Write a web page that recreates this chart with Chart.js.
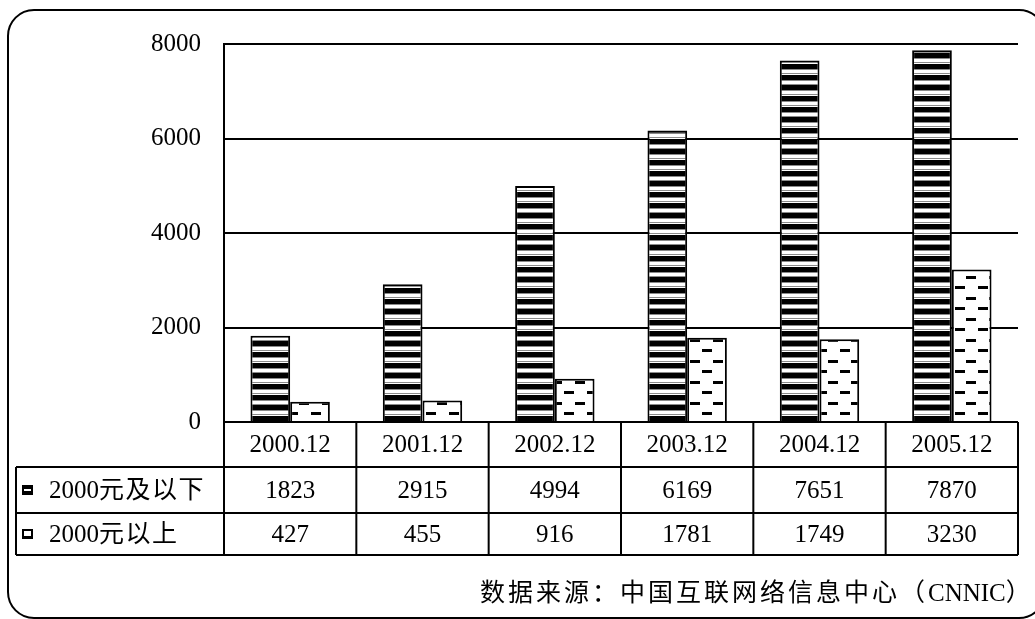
<!DOCTYPE html>
<html lang="zh">
<head>
<meta charset="UTF-8">
<title>网民个人月收入分布</title>
<script src="https://cdn.jsdelivr.net/npm/chart.js"></script>
<style>
    body { margin: 0; background: #fff; }
    canvas { display: block; }
</style>
</head>
<body>
<canvas id="chart" width="1035" height="619"></canvas>
<script>
    // data
    const categories = ['2000.12', '2001.12', '2002.12', '2003.12', '2004.12', '2005.12'];
    const belowValues = [1823, 2915, 4994, 6169, 7651, 7870];
    const aboveValues = [427, 455, 916, 1781, 1749, 3230];
    const seriesNames = ['2000元及以下', '2000元以上'];
    const yTickValues = [0, 2000, 4000, 6000, 8000];
    const sourceNote = '数据来源：中国互联网络信息中心（CNNIC）';

    const serif = "'Liberation Serif', 'Noto Sans CJK SC', serif";

    // horizontal black/white stripes
    function stripePattern() {
        const c = document.createElement('canvas');
        c.width = 8; c.height = 32;
        const g = c.getContext('2d');
        g.fillStyle = '#fff';
        g.fillRect(0, 0, 8, 32);
        for (let k = 0; k < 3; k++) {
            const y = Math.round(k * 32 / 3);
            g.fillStyle = '#000';
            g.fillRect(0, y, 8, 5);
            g.fillStyle = '#8a8a8a';
            g.fillRect(0, y + 5, 8, 1);
            g.fillRect(0, y + 9, 8, 1);
        }
        return g.createPattern(c, 'repeat');
    }

    // white with staggered short dashes
    function dashPattern() {
        const c = document.createElement('canvas');
        c.width = 23; c.height = 21;
        const g = c.getContext('2d');
        g.fillStyle = '#fff';
        g.fillRect(0, 0, 23, 21);
        g.fillStyle = '#000';
        g.fillRect(0, 3, 10, 3);
        g.fillRect(12, 13, 10, 3);
        return g.createPattern(c, 'repeat');
    }

    // draw text left-aligned, spacing out only the CJK runs
    function drawMixed(ctx, text, x, y, cjkSpacing) {
        const runs = text.match(/[\x00-\x7f]+|[^\x00-\x7f]+/g) || [];
        runs.forEach(run => {
            const ascii = /^[\x00-\x7f]/.test(run);
            ctx.letterSpacing = ascii ? '0px' : cjkSpacing + 'px';
            ctx.fillText(run, x, y);
            x += ctx.measureText(run).width;
        });
        ctx.letterSpacing = '0px';
    }

    // data table under the plot, frame and source line
    const tablePlugin = {
        id: 'tablePlugin',
        afterDraw(chart) {
            const ctx = chart.ctx;
            const area = chart.chartArea;
            const xs = chart.scales.x;
            const colW = (area.right - area.left) / categories.length;
            const top = area.bottom;
            const headBottom = top + 45;
            const row1Bottom = top + 91;
            const row2Bottom = top + 133;
            const tableLeft = 16;

            ctx.save();
            ctx.strokeStyle = '#000';
            ctx.lineWidth = 2;
            ctx.beginPath();
            ctx.moveTo(area.left, top); ctx.lineTo(area.right, top);
            [headBottom, row1Bottom, row2Bottom].forEach(y => {
                ctx.moveTo(tableLeft, y); ctx.lineTo(area.right, y);
            });
            for (let i = 0; i <= categories.length; i++) {
                const x = area.left + i * colW;
                ctx.moveTo(x, top); ctx.lineTo(x, row2Bottom);
            }
            ctx.moveTo(tableLeft, headBottom); ctx.lineTo(tableLeft, row2Bottom);
            ctx.stroke();

            ctx.fillStyle = '#000';
            ctx.font = '25px ' + serif;
            ctx.textAlign = 'center';
            ctx.textBaseline = 'middle';
            categories.forEach((cat, i) => {
                const cx = xs.getPixelForValue(i);
                ctx.fillText(cat, cx, (top + headBottom) / 2 + 1);
                ctx.fillText(String(belowValues[i]), cx, (headBottom + row1Bottom) / 2 + 1);
                ctx.fillText(String(aboveValues[i]), cx, (row1Bottom + row2Bottom) / 2 + 1);
            });

            // legend keys
            const y1 = (headBottom + row1Bottom) / 2;
            const y2 = (row1Bottom + row2Bottom) / 2;
            ctx.fillStyle = '#000';
            ctx.fillRect(22, y1 - 5, 11, 10);
            ctx.fillStyle = '#fff';
            ctx.fillRect(24, y1 - 1, 7, 2);
            ctx.fillStyle = '#000';
            ctx.fillRect(22, y2 - 5, 11, 10);
            ctx.fillStyle = '#fff';
            ctx.fillRect(24, y2 - 3, 7, 5);

            ctx.fillStyle = '#000';
            ctx.textAlign = 'left';
            drawMixed(ctx, seriesNames[0], 49, y1 + 1, 1.5);
            drawMixed(ctx, seriesNames[1], 49, y2 + 1, 1.5);

            // source
            drawMixed(ctx, sourceNote, 480, 594, 3);

            // rounded outer frame
            ctx.lineWidth = 2;
            ctx.beginPath();
            ctx.roundRect(8, 10, 1037, 608, 26);
            ctx.stroke();
            ctx.restore();
        }
    };

    new Chart(document.getElementById('chart').getContext('2d'), {
        type: 'bar',
        data: {
            labels: categories,
            datasets: [
                { label: seriesNames[0], data: belowValues, backgroundColor: stripePattern(), borderColor: '#000', borderWidth: 2 },
                { label: seriesNames[1], data: aboveValues, backgroundColor: dashPattern(), borderColor: '#000', borderWidth: 2 }
            ]
        },
        options: {
            responsive: false,
            animation: false,
            events: [],
            categoryPercentage: 0.6,
            barPercentage: 1.0,
            layout: { padding: { left: 0, top: 44, right: 17, bottom: 197 } },
            plugins: {
                legend: { display: false },
                tooltip: { enabled: false }
            },
            scales: {
                x: { display: false },
                y: {
                    min: 0,
                    max: 8000,
                    afterBuildTicks: s => { s.ticks = yTickValues.map(v => ({ value: v })); },
                    afterFit: s => { s.width = 224; },
                    ticks: {
                        color: '#000',
                        padding: 23,
                        font: { family: serif, size: 25 },
                        callback: v => String(v)
                    },
                    grid: { color: '#000', lineWidth: 2, drawTicks: false },
                    border: { display: true, color: '#000', width: 2 }
                }
            }
        },
        plugins: [tablePlugin]
    });
</script>
</body>
</html>
